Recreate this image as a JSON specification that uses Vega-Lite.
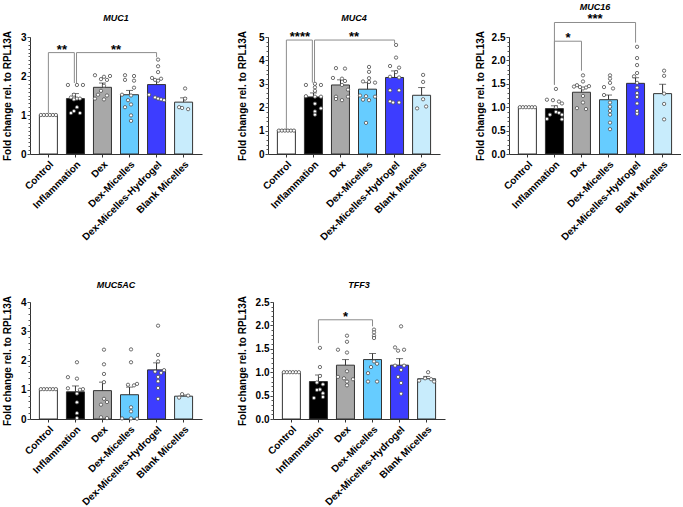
{
"$schema": "https://vega.github.io/schema/vega-lite/v6.json",
"padding": {"left": 2, "top": 3, "right": 0, "bottom": 0},
"config": {"font": "Liberation Sans", "view": {"stroke": null},
 "axis": {"grid": false, "domainColor": "#333", "tickColor": "#333", "labelColor": "#000", "titleColor": "#000"},
 "title": {"fontSize": 9, "fontStyle": "italic", "fontWeight": "bold", "color": "#000"}},
"datasets": {
"bars": [
{"gene":"MUC1","grp":"Control","mean":1.0,"hi":1.01},
{"gene":"MUC1","grp":"Inflammation","mean":1.42,"hi":1.55},
{"gene":"MUC1","grp":"Dex","mean":1.71,"hi":1.82},
{"gene":"MUC1","grp":"Dex-Micelles","mean":1.52,"hi":1.63},
{"gene":"MUC1","grp":"Dex-Micelles-Hydrogel","mean":1.78,"hi":1.91},
{"gene":"MUC1","grp":"Blank Micelles","mean":1.33,"hi":1.44},
{"gene":"MUC4","grp":"Control","mean":1.02,"hi":1.04},
{"gene":"MUC4","grp":"Inflammation","mean":2.44,"hi":2.61},
{"gene":"MUC4","grp":"Dex","mean":2.95,"hi":3.17},
{"gene":"MUC4","grp":"Dex-Micelles","mean":2.77,"hi":3.05},
{"gene":"MUC4","grp":"Dex-Micelles-Hydrogel","mean":3.27,"hi":3.55},
{"gene":"MUC4","grp":"Blank Micelles","mean":2.51,"hi":2.84},
{"gene":"MUC16","grp":"Control","mean":1.0,"hi":1.01},
{"gene":"MUC16","grp":"Inflammation","mean":0.97,"hi":1.03},
{"gene":"MUC16","grp":"Dex","mean":1.32,"hi":1.42},
{"gene":"MUC16","grp":"Dex-Micelles","mean":1.16,"hi":1.26},
{"gene":"MUC16","grp":"Dex-Micelles-Hydrogel","mean":1.51,"hi":1.63},
{"gene":"MUC16","grp":"Blank Micelles","mean":1.29,"hi":1.49},
{"gene":"MUC5AC","grp":"Control","mean":1.02,"hi":1.04},
{"gene":"MUC5AC","grp":"Inflammation","mean":0.93,"hi":1.13},
{"gene":"MUC5AC","grp":"Dex","mean":0.97,"hi":1.26},
{"gene":"MUC5AC","grp":"Dex-Micelles","mean":0.83,"hi":1.09},
{"gene":"MUC5AC","grp":"Dex-Micelles-Hydrogel","mean":1.68,"hi":1.92},
{"gene":"MUC5AC","grp":"Blank Micelles","mean":0.78,"hi":0.82},
{"gene":"TFF3","grp":"Control","mean":1.0,"hi":1.01},
{"gene":"TFF3","grp":"Inflammation","mean":0.8,"hi":0.94},
{"gene":"TFF3","grp":"Dex","mean":1.15,"hi":1.27},
{"gene":"TFF3","grp":"Dex-Micelles","mean":1.27,"hi":1.4},
{"gene":"TFF3","grp":"Dex-Micelles-Hydrogel","mean":1.15,"hi":1.29},
{"gene":"TFF3","grp":"Blank Micelles","mean":0.86,"hi":0.91}
],
"brk": [
{"gene":"MUC1","a":0,"b":0.96,"lvl":2.6,"la":1.05,"lb":1.82,"m":0.5,"s":"**"},
{"gene":"MUC1","a":1.04,"b":4,"lvl":2.6,"la":1.82,"lb":2.48,"m":2.5,"s":"**"},
{"gene":"MUC4","a":0,"b":0.96,"lvl":4.87,"la":1.07,"lb":3.05,"m":0.5,"s":"****"},
{"gene":"MUC4","a":1.04,"b":4,"lvl":4.87,"la":3.05,"lb":4.73,"m":2.5,"s":"**"},
{"gene":"MUC16","a":1,"b":2,"lvl":2.41,"la":1.48,"lb":1.78,"m":1.5,"s":"*"},
{"gene":"MUC16","a":1,"b":4,"lvl":2.81,"la":1.48,"lb":2.38,"m":2.5,"s":"***"},
{"gene":"TFF3","a":1,"b":3,"lvl":2.12,"la":1.62,"lb":1.98,"m":2,"s":"*"}
],
"pts": [
{"gene":"MUC1","grp":"Control","c":0,"v":1.0},{"gene":"MUC1","grp":"Control","c":1,"v":1.0},{"gene":"MUC1","grp":"Control","c":2,"v":1.0},{"gene":"MUC1","grp":"Control","c":3,"v":1.0},{"gene":"MUC1","grp":"Control","c":4,"v":1.0},{"gene":"MUC1","grp":"Control","c":5,"v":1.0},
{"gene":"MUC1","grp":"Inflammation","c":0,"v":1.77},{"gene":"MUC1","grp":"Inflammation","c":3,"v":1.77},{"gene":"MUC1","grp":"Inflammation","c":5,"v":1.77},{"gene":"MUC1","grp":"Inflammation","c":2,"v":1.52},{"gene":"MUC1","grp":"Inflammation","c":1,"v":1.45},{"gene":"MUC1","grp":"Inflammation","c":3,"v":1.42},{"gene":"MUC1","grp":"Inflammation","c":4,"v":1.42},{"gene":"MUC1","grp":"Inflammation","c":2,"v":1.4},{"gene":"MUC1","grp":"Inflammation","c":3,"v":1.2},{"gene":"MUC1","grp":"Inflammation","c":2,"v":1.1},{"gene":"MUC1","grp":"Inflammation","c":1,"v":1.05},{"gene":"MUC1","grp":"Inflammation","c":4,"v":1.05},
{"gene":"MUC1","grp":"Dex","c":0,"v":2.02},{"gene":"MUC1","grp":"Dex","c":5,"v":2.0},{"gene":"MUC1","grp":"Dex","c":3,"v":1.98},{"gene":"MUC1","grp":"Dex","c":2,"v":1.92},{"gene":"MUC1","grp":"Dex","c":4,"v":1.9},{"gene":"MUC1","grp":"Dex","c":3,"v":1.75},{"gene":"MUC1","grp":"Dex","c":2,"v":1.62},{"gene":"MUC1","grp":"Dex","c":1,"v":1.52},{"gene":"MUC1","grp":"Dex","c":4,"v":1.5},{"gene":"MUC1","grp":"Dex","c":0,"v":1.42},{"gene":"MUC1","grp":"Dex","c":3,"v":1.4},
{"gene":"MUC1","grp":"Dex-Micelles","c":1,"v":2.02},{"gene":"MUC1","grp":"Dex-Micelles","c":4,"v":2.0},{"gene":"MUC1","grp":"Dex-Micelles","c":1,"v":1.9},{"gene":"MUC1","grp":"Dex-Micelles","c":4,"v":1.88},{"gene":"MUC1","grp":"Dex-Micelles","c":4,"v":1.7},{"gene":"MUC1","grp":"Dex-Micelles","c":0,"v":1.52},{"gene":"MUC1","grp":"Dex-Micelles","c":3,"v":1.5},{"gene":"MUC1","grp":"Dex-Micelles","c":2,"v":1.38},{"gene":"MUC1","grp":"Dex-Micelles","c":3,"v":1.27},{"gene":"MUC1","grp":"Dex-Micelles","c":1,"v":1.2},{"gene":"MUC1","grp":"Dex-Micelles","c":3,"v":0.99},{"gene":"MUC1","grp":"Dex-Micelles","c":3,"v":0.85},
{"gene":"MUC1","grp":"Dex-Micelles-Hydrogel","c":3,"v":2.42},{"gene":"MUC1","grp":"Dex-Micelles-Hydrogel","c":3,"v":2.25},{"gene":"MUC1","grp":"Dex-Micelles-Hydrogel","c":3,"v":2.1},{"gene":"MUC1","grp":"Dex-Micelles-Hydrogel","c":1,"v":1.95},{"gene":"MUC1","grp":"Dex-Micelles-Hydrogel","c":4,"v":1.93},{"gene":"MUC1","grp":"Dex-Micelles-Hydrogel","c":2,"v":1.9},{"gene":"MUC1","grp":"Dex-Micelles-Hydrogel","c":3,"v":1.88},{"gene":"MUC1","grp":"Dex-Micelles-Hydrogel","c":0,"v":1.52},{"gene":"MUC1","grp":"Dex-Micelles-Hydrogel","c":2,"v":1.45},{"gene":"MUC1","grp":"Dex-Micelles-Hydrogel","c":3,"v":1.42},{"gene":"MUC1","grp":"Dex-Micelles-Hydrogel","c":4,"v":1.4},{"gene":"MUC1","grp":"Dex-Micelles-Hydrogel","c":5,"v":1.38},
{"gene":"MUC1","grp":"Blank Micelles","c":3,"v":1.68},{"gene":"MUC1","grp":"Blank Micelles","c":3,"v":1.42},{"gene":"MUC1","grp":"Blank Micelles","c":1,"v":1.2},{"gene":"MUC1","grp":"Blank Micelles","c":2,"v":1.18},{"gene":"MUC1","grp":"Blank Micelles","c":4,"v":1.15},

{"gene":"MUC4","grp":"Control","c":0,"v":1.0},{"gene":"MUC4","grp":"Control","c":1,"v":1.0},{"gene":"MUC4","grp":"Control","c":2,"v":1.0},{"gene":"MUC4","grp":"Control","c":3,"v":1.0},{"gene":"MUC4","grp":"Control","c":4,"v":1.0},{"gene":"MUC4","grp":"Control","c":5,"v":1.0},
{"gene":"MUC4","grp":"Inflammation","c":0,"v":2.95},{"gene":"MUC4","grp":"Inflammation","c":3,"v":3.0},{"gene":"MUC4","grp":"Inflammation","c":5,"v":2.95},{"gene":"MUC4","grp":"Inflammation","c":3,"v":2.85},{"gene":"MUC4","grp":"Inflammation","c":3,"v":2.7},{"gene":"MUC4","grp":"Inflammation","c":0,"v":2.47},{"gene":"MUC4","grp":"Inflammation","c":3,"v":2.45},{"gene":"MUC4","grp":"Inflammation","c":5,"v":2.45},{"gene":"MUC4","grp":"Inflammation","c":3,"v":2.15},{"gene":"MUC4","grp":"Inflammation","c":5,"v":1.95},{"gene":"MUC4","grp":"Inflammation","c":3,"v":1.82},{"gene":"MUC4","grp":"Inflammation","c":3,"v":1.68},
{"gene":"MUC4","grp":"Dex","c":1,"v":3.67},{"gene":"MUC4","grp":"Dex","c":4,"v":3.65},{"gene":"MUC4","grp":"Dex","c":0,"v":3.25},{"gene":"MUC4","grp":"Dex","c":3,"v":3.22},{"gene":"MUC4","grp":"Dex","c":4,"v":3.12},{"gene":"MUC4","grp":"Dex","c":3,"v":2.95},{"gene":"MUC4","grp":"Dex","c":5,"v":2.75},{"gene":"MUC4","grp":"Dex","c":1,"v":2.45},{"gene":"MUC4","grp":"Dex","c":5,"v":2.45},{"gene":"MUC4","grp":"Dex","c":1,"v":2.35},{"gene":"MUC4","grp":"Dex","c":3,"v":2.3},
{"gene":"MUC4","grp":"Dex-Micelles","c":3,"v":3.72},{"gene":"MUC4","grp":"Dex-Micelles","c":3,"v":3.51},{"gene":"MUC4","grp":"Dex-Micelles","c":3,"v":3.24},{"gene":"MUC4","grp":"Dex-Micelles","c":1,"v":3.1},{"gene":"MUC4","grp":"Dex-Micelles","c":3,"v":3.08},{"gene":"MUC4","grp":"Dex-Micelles","c":5,"v":3.05},{"gene":"MUC4","grp":"Dex-Micelles","c":0,"v":2.5},{"gene":"MUC4","grp":"Dex-Micelles","c":2,"v":2.47},{"gene":"MUC4","grp":"Dex-Micelles","c":5,"v":2.45},{"gene":"MUC4","grp":"Dex-Micelles","c":1,"v":2.32},{"gene":"MUC4","grp":"Dex-Micelles","c":3,"v":2.3},{"gene":"MUC4","grp":"Dex-Micelles","c":2,"v":1.33},
{"gene":"MUC4","grp":"Dex-Micelles-Hydrogel","c":3,"v":4.66},{"gene":"MUC4","grp":"Dex-Micelles-Hydrogel","c":3,"v":4.12},{"gene":"MUC4","grp":"Dex-Micelles-Hydrogel","c":1,"v":3.76},{"gene":"MUC4","grp":"Dex-Micelles-Hydrogel","c":4,"v":3.69},{"gene":"MUC4","grp":"Dex-Micelles-Hydrogel","c":3,"v":3.5},{"gene":"MUC4","grp":"Dex-Micelles-Hydrogel","c":1,"v":3.3},{"gene":"MUC4","grp":"Dex-Micelles-Hydrogel","c":4,"v":3.27},{"gene":"MUC4","grp":"Dex-Micelles-Hydrogel","c":1,"v":2.72},{"gene":"MUC4","grp":"Dex-Micelles-Hydrogel","c":4,"v":2.72},{"gene":"MUC4","grp":"Dex-Micelles-Hydrogel","c":1,"v":2.25},{"gene":"MUC4","grp":"Dex-Micelles-Hydrogel","c":4,"v":2.2},{"gene":"MUC4","grp":"Dex-Micelles-Hydrogel","c":2,"v":2.2},
{"gene":"MUC4","grp":"Blank Micelles","c":3,"v":3.38},{"gene":"MUC4","grp":"Blank Micelles","c":3,"v":3.08},{"gene":"MUC4","grp":"Blank Micelles","c":3,"v":2.34},{"gene":"MUC4","grp":"Blank Micelles","c":4,"v":2.03},{"gene":"MUC4","grp":"Blank Micelles","c":1,"v":1.95},

{"gene":"MUC16","grp":"Control","c":0,"v":1.0},{"gene":"MUC16","grp":"Control","c":1,"v":1.0},{"gene":"MUC16","grp":"Control","c":2,"v":1.0},{"gene":"MUC16","grp":"Control","c":3,"v":1.0},{"gene":"MUC16","grp":"Control","c":4,"v":1.0},{"gene":"MUC16","grp":"Control","c":5,"v":1.0},
{"gene":"MUC16","grp":"Inflammation","c":3,"v":1.39},{"gene":"MUC16","grp":"Inflammation","c":0,"v":1.16},{"gene":"MUC16","grp":"Inflammation","c":2,"v":1.15},{"gene":"MUC16","grp":"Inflammation","c":4,"v":1.12},{"gene":"MUC16","grp":"Inflammation","c":5,"v":1.08},{"gene":"MUC16","grp":"Inflammation","c":3,"v":1.0},{"gene":"MUC16","grp":"Inflammation","c":3,"v":0.9},{"gene":"MUC16","grp":"Inflammation","c":4,"v":0.88},{"gene":"MUC16","grp":"Inflammation","c":1,"v":0.84},{"gene":"MUC16","grp":"Inflammation","c":5,"v":0.84},{"gene":"MUC16","grp":"Inflammation","c":0,"v":0.75},{"gene":"MUC16","grp":"Inflammation","c":5,"v":0.74},
{"gene":"MUC16","grp":"Dex","c":3,"v":1.68},{"gene":"MUC16","grp":"Dex","c":3,"v":1.55},{"gene":"MUC16","grp":"Dex","c":1,"v":1.47},{"gene":"MUC16","grp":"Dex","c":5,"v":1.45},{"gene":"MUC16","grp":"Dex","c":0,"v":1.44},{"gene":"MUC16","grp":"Dex","c":2,"v":1.43},{"gene":"MUC16","grp":"Dex","c":4,"v":1.42},{"gene":"MUC16","grp":"Dex","c":3,"v":1.4},{"gene":"MUC16","grp":"Dex","c":3,"v":1.24},{"gene":"MUC16","grp":"Dex","c":3,"v":1.1},{"gene":"MUC16","grp":"Dex","c":1,"v":0.98},{"gene":"MUC16","grp":"Dex","c":4,"v":0.96},
{"gene":"MUC16","grp":"Dex-Micelles","c":3,"v":1.68},{"gene":"MUC16","grp":"Dex-Micelles","c":3,"v":1.61},{"gene":"MUC16","grp":"Dex-Micelles","c":3,"v":1.52},{"gene":"MUC16","grp":"Dex-Micelles","c":1,"v":1.43},{"gene":"MUC16","grp":"Dex-Micelles","c":4,"v":1.4},{"gene":"MUC16","grp":"Dex-Micelles","c":1,"v":1.26},{"gene":"MUC16","grp":"Dex-Micelles","c":3,"v":1.1},{"gene":"MUC16","grp":"Dex-Micelles","c":3,"v":1.01},{"gene":"MUC16","grp":"Dex-Micelles","c":3,"v":0.92},{"gene":"MUC16","grp":"Dex-Micelles","c":3,"v":0.84},{"gene":"MUC16","grp":"Dex-Micelles","c":3,"v":0.67},{"gene":"MUC16","grp":"Dex-Micelles","c":3,"v":0.53},
{"gene":"MUC16","grp":"Dex-Micelles-Hydrogel","c":3,"v":2.29},{"gene":"MUC16","grp":"Dex-Micelles-Hydrogel","c":3,"v":2.05},{"gene":"MUC16","grp":"Dex-Micelles-Hydrogel","c":3,"v":1.9},{"gene":"MUC16","grp":"Dex-Micelles-Hydrogel","c":3,"v":1.73},{"gene":"MUC16","grp":"Dex-Micelles-Hydrogel","c":2,"v":1.66},{"gene":"MUC16","grp":"Dex-Micelles-Hydrogel","c":3,"v":1.52},{"gene":"MUC16","grp":"Dex-Micelles-Hydrogel","c":3,"v":1.42},{"gene":"MUC16","grp":"Dex-Micelles-Hydrogel","c":3,"v":1.3},{"gene":"MUC16","grp":"Dex-Micelles-Hydrogel","c":3,"v":1.22},{"gene":"MUC16","grp":"Dex-Micelles-Hydrogel","c":3,"v":1.08},{"gene":"MUC16","grp":"Dex-Micelles-Hydrogel","c":3,"v":0.92},{"gene":"MUC16","grp":"Dex-Micelles-Hydrogel","c":3,"v":0.86},
{"gene":"MUC16","grp":"Blank Micelles","c":3,"v":1.78},{"gene":"MUC16","grp":"Blank Micelles","c":3,"v":1.67},{"gene":"MUC16","grp":"Blank Micelles","c":3,"v":1.29},{"gene":"MUC16","grp":"Blank Micelles","c":3,"v":1.07},{"gene":"MUC16","grp":"Blank Micelles","c":3,"v":0.74},

{"gene":"MUC5AC","grp":"Control","c":0,"v":1.02},{"gene":"MUC5AC","grp":"Control","c":1,"v":1.02},{"gene":"MUC5AC","grp":"Control","c":2,"v":1.02},{"gene":"MUC5AC","grp":"Control","c":3,"v":1.02},{"gene":"MUC5AC","grp":"Control","c":4,"v":1.02},{"gene":"MUC5AC","grp":"Control","c":5,"v":1.02},
{"gene":"MUC5AC","grp":"Inflammation","c":3,"v":1.94},{"gene":"MUC5AC","grp":"Inflammation","c":0,"v":1.43},{"gene":"MUC5AC","grp":"Inflammation","c":3,"v":1.38},{"gene":"MUC5AC","grp":"Inflammation","c":0,"v":1.05},{"gene":"MUC5AC","grp":"Inflammation","c":5,"v":1.02},{"gene":"MUC5AC","grp":"Inflammation","c":4,"v":1.0},{"gene":"MUC5AC","grp":"Inflammation","c":3,"v":0.87},{"gene":"MUC5AC","grp":"Inflammation","c":3,"v":0.57},{"gene":"MUC5AC","grp":"Inflammation","c":3,"v":0.2},{"gene":"MUC5AC","grp":"Inflammation","c":3,"v":0.03},
{"gene":"MUC5AC","grp":"Dex","c":3,"v":2.37},{"gene":"MUC5AC","grp":"Dex","c":3,"v":1.87},{"gene":"MUC5AC","grp":"Dex","c":3,"v":1.54},{"gene":"MUC5AC","grp":"Dex","c":3,"v":1.26},{"gene":"MUC5AC","grp":"Dex","c":3,"v":0.69},{"gene":"MUC5AC","grp":"Dex","c":4,"v":0.58},{"gene":"MUC5AC","grp":"Dex","c":2,"v":0.49},{"gene":"MUC5AC","grp":"Dex","c":2,"v":0.06},{"gene":"MUC5AC","grp":"Dex","c":4,"v":0.03},
{"gene":"MUC5AC","grp":"Dex-Micelles","c":3,"v":2.38},{"gene":"MUC5AC","grp":"Dex-Micelles","c":3,"v":1.94},{"gene":"MUC5AC","grp":"Dex-Micelles","c":5,"v":1.2},{"gene":"MUC5AC","grp":"Dex-Micelles","c":2,"v":1.17},{"gene":"MUC5AC","grp":"Dex-Micelles","c":4,"v":1.15},{"gene":"MUC5AC","grp":"Dex-Micelles","c":3,"v":0.4},{"gene":"MUC5AC","grp":"Dex-Micelles","c":3,"v":0.26},{"gene":"MUC5AC","grp":"Dex-Micelles","c":0,"v":0.02},{"gene":"MUC5AC","grp":"Dex-Micelles","c":3,"v":0.02},{"gene":"MUC5AC","grp":"Dex-Micelles","c":5,"v":0.01},
{"gene":"MUC5AC","grp":"Dex-Micelles-Hydrogel","c":3,"v":3.19},{"gene":"MUC5AC","grp":"Dex-Micelles-Hydrogel","c":3,"v":2.19},{"gene":"MUC5AC","grp":"Dex-Micelles-Hydrogel","c":3,"v":1.97},{"gene":"MUC5AC","grp":"Dex-Micelles-Hydrogel","c":5,"v":1.67},{"gene":"MUC5AC","grp":"Dex-Micelles-Hydrogel","c":2,"v":1.62},{"gene":"MUC5AC","grp":"Dex-Micelles-Hydrogel","c":4,"v":1.58},{"gene":"MUC5AC","grp":"Dex-Micelles-Hydrogel","c":3,"v":1.44},{"gene":"MUC5AC","grp":"Dex-Micelles-Hydrogel","c":3,"v":1.29},{"gene":"MUC5AC","grp":"Dex-Micelles-Hydrogel","c":3,"v":1.06},{"gene":"MUC5AC","grp":"Dex-Micelles-Hydrogel","c":3,"v":0.69},
{"gene":"MUC5AC","grp":"Blank Micelles","c":2,"v":0.85},{"gene":"MUC5AC","grp":"Blank Micelles","c":4,"v":0.8},{"gene":"MUC5AC","grp":"Blank Micelles","c":1,"v":0.73},

{"gene":"TFF3","grp":"Control","c":0,"v":1.0},{"gene":"TFF3","grp":"Control","c":1,"v":1.0},{"gene":"TFF3","grp":"Control","c":2,"v":1.0},{"gene":"TFF3","grp":"Control","c":3,"v":1.0},{"gene":"TFF3","grp":"Control","c":4,"v":1.0},{"gene":"TFF3","grp":"Control","c":5,"v":1.0},
{"gene":"TFF3","grp":"Inflammation","c":3,"v":1.52},{"gene":"TFF3","grp":"Inflammation","c":3,"v":1.11},{"gene":"TFF3","grp":"Inflammation","c":3,"v":0.92},{"gene":"TFF3","grp":"Inflammation","c":2,"v":0.78},{"gene":"TFF3","grp":"Inflammation","c":4,"v":0.74},{"gene":"TFF3","grp":"Inflammation","c":3,"v":0.63},{"gene":"TFF3","grp":"Inflammation","c":2,"v":0.62},{"gene":"TFF3","grp":"Inflammation","c":4,"v":0.55},{"gene":"TFF3","grp":"Inflammation","c":4,"v":0.47},{"gene":"TFF3","grp":"Inflammation","c":1,"v":0.45},
{"gene":"TFF3","grp":"Dex","c":3,"v":1.78},{"gene":"TFF3","grp":"Dex","c":3,"v":1.65},{"gene":"TFF3","grp":"Dex","c":0,"v":1.48},{"gene":"TFF3","grp":"Dex","c":3,"v":1.42},{"gene":"TFF3","grp":"Dex","c":3,"v":1.02},{"gene":"TFF3","grp":"Dex","c":0,"v":0.9},{"gene":"TFF3","grp":"Dex","c":2,"v":0.87},{"gene":"TFF3","grp":"Dex","c":5,"v":0.85},{"gene":"TFF3","grp":"Dex","c":3,"v":0.8},{"gene":"TFF3","grp":"Dex","c":3,"v":0.72},
{"gene":"TFF3","grp":"Dex-Micelles","c":3,"v":1.91},{"gene":"TFF3","grp":"Dex-Micelles","c":3,"v":1.85},{"gene":"TFF3","grp":"Dex-Micelles","c":3,"v":1.78},{"gene":"TFF3","grp":"Dex-Micelles","c":3,"v":1.73},{"gene":"TFF3","grp":"Dex-Micelles","c":3,"v":1.23},{"gene":"TFF3","grp":"Dex-Micelles","c":4,"v":1.18},{"gene":"TFF3","grp":"Dex-Micelles","c":2,"v":1.11},{"gene":"TFF3","grp":"Dex-Micelles","c":1,"v":0.98},{"gene":"TFF3","grp":"Dex-Micelles","c":1,"v":0.8},{"gene":"TFF3","grp":"Dex-Micelles","c":4,"v":0.8},
{"gene":"TFF3","grp":"Dex-Micelles-Hydrogel","c":3,"v":1.98},{"gene":"TFF3","grp":"Dex-Micelles-Hydrogel","c":1,"v":1.53},{"gene":"TFF3","grp":"Dex-Micelles-Hydrogel","c":4,"v":1.48},{"gene":"TFF3","grp":"Dex-Micelles-Hydrogel","c":2,"v":1.46},{"gene":"TFF3","grp":"Dex-Micelles-Hydrogel","c":1,"v":1.14},{"gene":"TFF3","grp":"Dex-Micelles-Hydrogel","c":4,"v":1.14},{"gene":"TFF3","grp":"Dex-Micelles-Hydrogel","c":3,"v":1.05},{"gene":"TFF3","grp":"Dex-Micelles-Hydrogel","c":2,"v":0.9},{"gene":"TFF3","grp":"Dex-Micelles-Hydrogel","c":3,"v":0.77},{"gene":"TFF3","grp":"Dex-Micelles-Hydrogel","c":3,"v":0.54},
{"gene":"TFF3","grp":"Blank Micelles","c":3,"v":1.0},{"gene":"TFF3","grp":"Blank Micelles","c":2,"v":0.87},{"gene":"TFF3","grp":"Blank Micelles","c":4,"v":0.85},{"gene":"TFF3","grp":"Blank Micelles","c":0,"v":0.82},{"gene":"TFF3","grp":"Blank Micelles","c":5,"v":0.8}
]
},
"spacing": 39,
"vconcat": [
{"hconcat": [
{"width": 172, "height": 117, "title": {"text": "MUC1", "offset": 7},
 "layer": [
  {"layer": [
   {"data": {"name": "bars"}, "transform": [{"filter": "datum.gene == 'MUC1'"}],
    "mark": {"type": "bar", "stroke": "#333", "strokeWidth": 1},
    "encoding": {
     "x": {"field": "grp", "type": "nominal", "scale": {"domain": ["Control","Inflammation","Dex","Dex-Micelles","Dex-Micelles-Hydrogel","Blank Micelles"], "paddingInner": 0.333, "paddingOuter": 0.347}, "axis": {"title": null, "labelAngle": -45, "labelFontSize": 10, "labelFontWeight": "bold", "tickSize": 3, "labelPadding": 2}},
     "y": {"field": "mean", "type": "quantitative", "scale": {"domain": [0, 3], "nice": false}, "axis": {"tickCount": 3, "title": "Fold change rel. to RPL13A", "titleFontSize": 10, "titleFontWeight": "bold", "labelFontSize": 10, "labelFontWeight": "bold", "tickSize": 3, "labelPadding": 1, "titlePadding": 8}},
     "color": {"field": "grp", "type": "nominal", "scale": {"domain": ["Control","Inflammation","Dex","Dex-Micelles","Dex-Micelles-Hydrogel","Blank Micelles"], "range": ["#ffffff","#000000","#a8a8a8","#66ccff","#3d3dff","#c8ecfc"]}, "legend": null}}},
   {"data": {"name": "bars"}, "transform": [{"filter": "datum.gene == 'MUC1'"}],
    "mark": {"type": "rule", "color": "#333", "strokeWidth": 1},
    "encoding": {"x": {"field": "grp", "type": "nominal"}, "y": {"field": "mean", "type": "quantitative"}, "y2": {"field": "hi"}}},
   {"data": {"name": "bars"}, "transform": [{"filter": "datum.gene == 'MUC1'"}],
    "mark": {"type": "tick", "orient": "horizontal", "color": "#333", "thickness": 1, "size": 7},
    "encoding": {"x": {"field": "grp", "type": "nominal"}, "y": {"field": "hi", "type": "quantitative"}}},
   {"data": {"name": "pts"}, "transform": [{"filter": "datum.gene == 'MUC1'"}],
    "mark": {"type": "circle", "fill": "#ffffff", "stroke": "#4d4d4d", "strokeWidth": 0.8, "size": 11, "opacity": 1},
    "encoding": {"x": {"field": "grp", "type": "nominal"}, "xOffset": {"field": "c", "type": "ordinal", "scale": {"domain": [0,1,2,3,4,5]}}, "y": {"field": "v", "type": "quantitative"}}}
  ]},
  {"data": {"name": "brk"}, "transform": [{"filter": "datum.gene == 'MUC1'"}],
   "layer": [
    {"mark": {"type": "rule", "color": "#8c8c8c", "strokeWidth": 1},
     "encoding": {"x": {"field": "a", "type": "quantitative", "scale": {"domain": [-0.68, 5.68], "nice": false, "zero": false}, "axis": null}, "x2": {"field": "b"}, "y": {"field": "lvl", "type": "quantitative", "axis": null}}},
    {"mark": {"type": "rule", "color": "#8c8c8c", "strokeWidth": 1},
     "encoding": {"x": {"field": "a", "type": "quantitative", "axis": null}, "y": {"field": "lvl", "type": "quantitative", "axis": null}, "y2": {"field": "la"}}},
    {"mark": {"type": "rule", "color": "#8c8c8c", "strokeWidth": 1},
     "encoding": {"x": {"field": "b", "type": "quantitative", "axis": null}, "y": {"field": "lvl", "type": "quantitative", "axis": null}, "y2": {"field": "lb"}}},
    {"mark": {"type": "text", "fontSize": 13, "fontWeight": "bold", "baseline": "alphabetic", "align": "center", "dy": 1, "color": "#000"},
     "encoding": {"x": {"field": "m", "type": "quantitative", "axis": null}, "y": {"field": "lvl", "type": "quantitative", "axis": null}, "text": {"field": "s"}}}
   ]},
  {"data": {"name": "bars"}, "transform": [{"filter": "datum.gene == 'MUC1'"}],
   "mark": {"type": "rule", "opacity": 0},
   "encoding": {"y": {"field": "mean", "type": "quantitative", "axis": {"orient": "left", "tickCount": 30, "labels": false, "domain": false, "title": null, "tickSize": 2, "tickColor": "#555"}}}}
 ],
 "resolve": {"scale": {"x": "independent"}, "axis": {"x": "independent", "y": "independent"}}},

{"width": 172, "height": 117, "title": {"text": "MUC4", "offset": 7},
 "layer": [
  {"layer": [
   {"data": {"name": "bars"}, "transform": [{"filter": "datum.gene == 'MUC4'"}],
    "mark": {"type": "bar", "stroke": "#333", "strokeWidth": 1},
    "encoding": {
     "x": {"field": "grp", "type": "nominal", "scale": {"domain": ["Control","Inflammation","Dex","Dex-Micelles","Dex-Micelles-Hydrogel","Blank Micelles"], "paddingInner": 0.333, "paddingOuter": 0.347}, "axis": {"title": null, "labelAngle": -45, "labelFontSize": 10, "labelFontWeight": "bold", "tickSize": 3, "labelPadding": 2}},
     "y": {"field": "mean", "type": "quantitative", "scale": {"domain": [0, 5], "nice": false}, "axis": {"tickCount": 5, "title": "Fold change rel. to RPL13A", "titleFontSize": 10, "titleFontWeight": "bold", "labelFontSize": 10, "labelFontWeight": "bold", "tickSize": 3, "labelPadding": 1, "titlePadding": 11}},
     "color": {"field": "grp", "type": "nominal", "scale": {"domain": ["Control","Inflammation","Dex","Dex-Micelles","Dex-Micelles-Hydrogel","Blank Micelles"], "range": ["#ffffff","#000000","#a8a8a8","#66ccff","#3d3dff","#c8ecfc"]}, "legend": null}}},
   {"data": {"name": "bars"}, "transform": [{"filter": "datum.gene == 'MUC4'"}],
    "mark": {"type": "rule", "color": "#333", "strokeWidth": 1},
    "encoding": {"x": {"field": "grp", "type": "nominal"}, "y": {"field": "mean", "type": "quantitative"}, "y2": {"field": "hi"}}},
   {"data": {"name": "bars"}, "transform": [{"filter": "datum.gene == 'MUC4'"}],
    "mark": {"type": "tick", "orient": "horizontal", "color": "#333", "thickness": 1, "size": 7},
    "encoding": {"x": {"field": "grp", "type": "nominal"}, "y": {"field": "hi", "type": "quantitative"}}},
   {"data": {"name": "pts"}, "transform": [{"filter": "datum.gene == 'MUC4'"}],
    "mark": {"type": "circle", "fill": "#ffffff", "stroke": "#4d4d4d", "strokeWidth": 0.8, "size": 11, "opacity": 1},
    "encoding": {"x": {"field": "grp", "type": "nominal"}, "xOffset": {"field": "c", "type": "ordinal", "scale": {"domain": [0,1,2,3,4,5]}}, "y": {"field": "v", "type": "quantitative"}}}
  ]},
  {"data": {"name": "brk"}, "transform": [{"filter": "datum.gene == 'MUC4'"}],
   "layer": [
    {"mark": {"type": "rule", "color": "#8c8c8c", "strokeWidth": 1},
     "encoding": {"x": {"field": "a", "type": "quantitative", "scale": {"domain": [-0.68, 5.68], "nice": false, "zero": false}, "axis": null}, "x2": {"field": "b"}, "y": {"field": "lvl", "type": "quantitative", "axis": null}}},
    {"mark": {"type": "rule", "color": "#8c8c8c", "strokeWidth": 1},
     "encoding": {"x": {"field": "a", "type": "quantitative", "axis": null}, "y": {"field": "lvl", "type": "quantitative", "axis": null}, "y2": {"field": "la"}}},
    {"mark": {"type": "rule", "color": "#8c8c8c", "strokeWidth": 1},
     "encoding": {"x": {"field": "b", "type": "quantitative", "axis": null}, "y": {"field": "lvl", "type": "quantitative", "axis": null}, "y2": {"field": "lb"}}},
    {"mark": {"type": "text", "fontSize": 13, "fontWeight": "bold", "baseline": "alphabetic", "align": "center", "dy": 1, "color": "#000"},
     "encoding": {"x": {"field": "m", "type": "quantitative", "axis": null}, "y": {"field": "lvl", "type": "quantitative", "axis": null}, "text": {"field": "s"}}}
   ]},
  {"data": {"name": "bars"}, "transform": [{"filter": "datum.gene == 'MUC4'"}],
   "mark": {"type": "rule", "opacity": 0},
   "encoding": {"y": {"field": "mean", "type": "quantitative", "axis": {"orient": "left", "tickCount": 25, "labels": false, "domain": false, "title": null, "tickSize": 2, "tickColor": "#555"}}}}
 ],
 "resolve": {"scale": {"x": "independent"}, "axis": {"x": "independent", "y": "independent"}}},

{"width": 172, "height": 117, "title": {"text": "MUC16", "offset": 1},
 "layer": [
  {"layer": [
   {"data": {"name": "bars"}, "transform": [{"filter": "datum.gene == 'MUC16'"}],
    "mark": {"type": "bar", "stroke": "#333", "strokeWidth": 1},
    "encoding": {
     "x": {"field": "grp", "type": "nominal", "scale": {"domain": ["Control","Inflammation","Dex","Dex-Micelles","Dex-Micelles-Hydrogel","Blank Micelles"], "paddingInner": 0.333, "paddingOuter": 0.347}, "axis": {"title": null, "labelAngle": -45, "labelFontSize": 10, "labelFontWeight": "bold", "tickSize": 3, "labelPadding": 2}},
     "y": {"field": "mean", "type": "quantitative", "scale": {"domain": [0, 2.5], "nice": false}, "axis": {"tickCount": 5, "format": ".1f", "title": "Fold change rel. to RPL13A", "titleFontSize": 10, "titleFontWeight": "bold", "labelFontSize": 10, "labelFontWeight": "bold", "tickSize": 3, "labelPadding": 1, "titlePadding": 6}},
     "color": {"field": "grp", "type": "nominal", "scale": {"domain": ["Control","Inflammation","Dex","Dex-Micelles","Dex-Micelles-Hydrogel","Blank Micelles"], "range": ["#ffffff","#000000","#a8a8a8","#66ccff","#3d3dff","#c8ecfc"]}, "legend": null}}},
   {"data": {"name": "bars"}, "transform": [{"filter": "datum.gene == 'MUC16'"}],
    "mark": {"type": "rule", "color": "#333", "strokeWidth": 1},
    "encoding": {"x": {"field": "grp", "type": "nominal"}, "y": {"field": "mean", "type": "quantitative"}, "y2": {"field": "hi"}}},
   {"data": {"name": "bars"}, "transform": [{"filter": "datum.gene == 'MUC16'"}],
    "mark": {"type": "tick", "orient": "horizontal", "color": "#333", "thickness": 1, "size": 7},
    "encoding": {"x": {"field": "grp", "type": "nominal"}, "y": {"field": "hi", "type": "quantitative"}}},
   {"data": {"name": "pts"}, "transform": [{"filter": "datum.gene == 'MUC16'"}],
    "mark": {"type": "circle", "fill": "#ffffff", "stroke": "#4d4d4d", "strokeWidth": 0.8, "size": 11, "opacity": 1},
    "encoding": {"x": {"field": "grp", "type": "nominal"}, "xOffset": {"field": "c", "type": "ordinal", "scale": {"domain": [0,1,2,3,4,5]}}, "y": {"field": "v", "type": "quantitative"}}}
  ]},
  {"data": {"name": "brk"}, "transform": [{"filter": "datum.gene == 'MUC16'"}],
   "layer": [
    {"mark": {"type": "rule", "color": "#8c8c8c", "strokeWidth": 1},
     "encoding": {"x": {"field": "a", "type": "quantitative", "scale": {"domain": [-0.68, 5.68], "nice": false, "zero": false}, "axis": null}, "x2": {"field": "b"}, "y": {"field": "lvl", "type": "quantitative", "axis": null}}},
    {"mark": {"type": "rule", "color": "#8c8c8c", "strokeWidth": 1},
     "encoding": {"x": {"field": "a", "type": "quantitative", "axis": null}, "y": {"field": "lvl", "type": "quantitative", "axis": null}, "y2": {"field": "la"}}},
    {"mark": {"type": "rule", "color": "#8c8c8c", "strokeWidth": 1},
     "encoding": {"x": {"field": "b", "type": "quantitative", "axis": null}, "y": {"field": "lvl", "type": "quantitative", "axis": null}, "y2": {"field": "lb"}}},
    {"mark": {"type": "text", "fontSize": 13, "fontWeight": "bold", "baseline": "alphabetic", "align": "center", "dy": 1, "color": "#000"},
     "encoding": {"x": {"field": "m", "type": "quantitative", "axis": null}, "y": {"field": "lvl", "type": "quantitative", "axis": null}, "text": {"field": "s"}}}
   ]},
  {"data": {"name": "bars"}, "transform": [{"filter": "datum.gene == 'MUC16'"}],
   "mark": {"type": "rule", "opacity": 0},
   "encoding": {"y": {"field": "mean", "type": "quantitative", "axis": {"orient": "left", "tickCount": 25, "labels": false, "domain": false, "title": null, "tickSize": 2, "tickColor": "#555"}}}}
 ],
 "resolve": {"scale": {"x": "independent"}, "axis": {"x": "independent", "y": "independent"}}}
], "spacing": 35},

{"hconcat": [
{"width": 172, "height": 117, "title": {"text": "MUC5AC", "offset": 5},
 "layer": [
  {"layer": [
   {"data": {"name": "bars"}, "transform": [{"filter": "datum.gene == 'MUC5AC'"}],
    "mark": {"type": "bar", "stroke": "#333", "strokeWidth": 1},
    "encoding": {
     "x": {"field": "grp", "type": "nominal", "scale": {"domain": ["Control","Inflammation","Dex","Dex-Micelles","Dex-Micelles-Hydrogel","Blank Micelles"], "paddingInner": 0.333, "paddingOuter": 0.347}, "axis": {"title": null, "labelAngle": -45, "labelFontSize": 10, "labelFontWeight": "bold", "tickSize": 3, "labelPadding": 2}},
     "y": {"field": "mean", "type": "quantitative", "scale": {"domain": [0, 4], "nice": false}, "axis": {"tickCount": 4, "title": "Fold change rel. to RPL13A", "titleFontSize": 10, "titleFontWeight": "bold", "labelFontSize": 10, "labelFontWeight": "bold", "tickSize": 3, "labelPadding": 1, "titlePadding": 8}},
     "color": {"field": "grp", "type": "nominal", "scale": {"domain": ["Control","Inflammation","Dex","Dex-Micelles","Dex-Micelles-Hydrogel","Blank Micelles"], "range": ["#ffffff","#000000","#a8a8a8","#66ccff","#3d3dff","#c8ecfc"]}, "legend": null}}},
   {"data": {"name": "bars"}, "transform": [{"filter": "datum.gene == 'MUC5AC'"}],
    "mark": {"type": "rule", "color": "#333", "strokeWidth": 1},
    "encoding": {"x": {"field": "grp", "type": "nominal"}, "y": {"field": "mean", "type": "quantitative"}, "y2": {"field": "hi"}}},
   {"data": {"name": "bars"}, "transform": [{"filter": "datum.gene == 'MUC5AC'"}],
    "mark": {"type": "tick", "orient": "horizontal", "color": "#333", "thickness": 1, "size": 7},
    "encoding": {"x": {"field": "grp", "type": "nominal"}, "y": {"field": "hi", "type": "quantitative"}}},
   {"data": {"name": "pts"}, "transform": [{"filter": "datum.gene == 'MUC5AC'"}],
    "mark": {"type": "circle", "fill": "#ffffff", "stroke": "#4d4d4d", "strokeWidth": 0.8, "size": 11, "opacity": 1},
    "encoding": {"x": {"field": "grp", "type": "nominal"}, "xOffset": {"field": "c", "type": "ordinal", "scale": {"domain": [0,1,2,3,4,5]}}, "y": {"field": "v", "type": "quantitative"}}}
  ]},
  {"data": {"name": "bars"}, "transform": [{"filter": "datum.gene == 'MUC5AC'"}],
   "mark": {"type": "rule", "opacity": 0},
   "encoding": {"y": {"field": "mean", "type": "quantitative", "axis": {"orient": "left", "tickCount": 20, "labels": false, "domain": false, "title": null, "tickSize": 2, "tickColor": "#555"}}}}
 ],
 "resolve": {"scale": {"x": "independent"}, "axis": {"x": "independent", "y": "independent"}}},

{"width": 172, "height": 117, "title": {"text": "TFF3", "offset": 5},
 "layer": [
  {"layer": [
   {"data": {"name": "bars"}, "transform": [{"filter": "datum.gene == 'TFF3'"}],
    "mark": {"type": "bar", "stroke": "#333", "strokeWidth": 1},
    "encoding": {
     "x": {"field": "grp", "type": "nominal", "scale": {"domain": ["Control","Inflammation","Dex","Dex-Micelles","Dex-Micelles-Hydrogel","Blank Micelles"], "paddingInner": 0.333, "paddingOuter": 0.347}, "axis": {"title": null, "labelAngle": -45, "labelFontSize": 10, "labelFontWeight": "bold", "tickSize": 3, "labelPadding": 2}},
     "y": {"field": "mean", "type": "quantitative", "scale": {"domain": [0, 2.5], "nice": false}, "axis": {"tickCount": 5, "format": ".1f", "title": "Fold change rel. to RPL13A", "titleFontSize": 10, "titleFontWeight": "bold", "labelFontSize": 10, "labelFontWeight": "bold", "tickSize": 3, "labelPadding": 1, "titlePadding": 8}},
     "color": {"field": "grp", "type": "nominal", "scale": {"domain": ["Control","Inflammation","Dex","Dex-Micelles","Dex-Micelles-Hydrogel","Blank Micelles"], "range": ["#ffffff","#000000","#a8a8a8","#66ccff","#3d3dff","#c8ecfc"]}, "legend": null}}},
   {"data": {"name": "bars"}, "transform": [{"filter": "datum.gene == 'TFF3'"}],
    "mark": {"type": "rule", "color": "#333", "strokeWidth": 1},
    "encoding": {"x": {"field": "grp", "type": "nominal"}, "y": {"field": "mean", "type": "quantitative"}, "y2": {"field": "hi"}}},
   {"data": {"name": "bars"}, "transform": [{"filter": "datum.gene == 'TFF3'"}],
    "mark": {"type": "tick", "orient": "horizontal", "color": "#333", "thickness": 1, "size": 7},
    "encoding": {"x": {"field": "grp", "type": "nominal"}, "y": {"field": "hi", "type": "quantitative"}}},
   {"data": {"name": "pts"}, "transform": [{"filter": "datum.gene == 'TFF3'"}],
    "mark": {"type": "circle", "fill": "#ffffff", "stroke": "#4d4d4d", "strokeWidth": 0.8, "size": 11, "opacity": 1},
    "encoding": {"x": {"field": "grp", "type": "nominal"}, "xOffset": {"field": "c", "type": "ordinal", "scale": {"domain": [0,1,2,3,4,5]}}, "y": {"field": "v", "type": "quantitative"}}}
  ]},
  {"data": {"name": "brk"}, "transform": [{"filter": "datum.gene == 'TFF3'"}],
   "layer": [
    {"mark": {"type": "rule", "color": "#8c8c8c", "strokeWidth": 1},
     "encoding": {"x": {"field": "a", "type": "quantitative", "scale": {"domain": [-0.68, 5.68], "nice": false, "zero": false}, "axis": null}, "x2": {"field": "b"}, "y": {"field": "lvl", "type": "quantitative", "axis": null}}},
    {"mark": {"type": "rule", "color": "#8c8c8c", "strokeWidth": 1},
     "encoding": {"x": {"field": "a", "type": "quantitative", "axis": null}, "y": {"field": "lvl", "type": "quantitative", "axis": null}, "y2": {"field": "la"}}},
    {"mark": {"type": "rule", "color": "#8c8c8c", "strokeWidth": 1},
     "encoding": {"x": {"field": "b", "type": "quantitative", "axis": null}, "y": {"field": "lvl", "type": "quantitative", "axis": null}, "y2": {"field": "lb"}}},
    {"mark": {"type": "text", "fontSize": 13, "fontWeight": "bold", "baseline": "alphabetic", "align": "center", "dy": 1, "color": "#000"},
     "encoding": {"x": {"field": "m", "type": "quantitative", "axis": null}, "y": {"field": "lvl", "type": "quantitative", "axis": null}, "text": {"field": "s"}}}
   ]},
  {"data": {"name": "bars"}, "transform": [{"filter": "datum.gene == 'TFF3'"}],
   "mark": {"type": "rule", "opacity": 0},
   "encoding": {"y": {"field": "mean", "type": "quantitative", "axis": {"orient": "left", "tickCount": 25, "labels": false, "domain": false, "title": null, "tickSize": 2, "tickColor": "#555"}}}}
 ],
 "resolve": {"scale": {"x": "independent"}, "axis": {"x": "independent", "y": "independent"}}}
], "spacing": 35}
]
}
